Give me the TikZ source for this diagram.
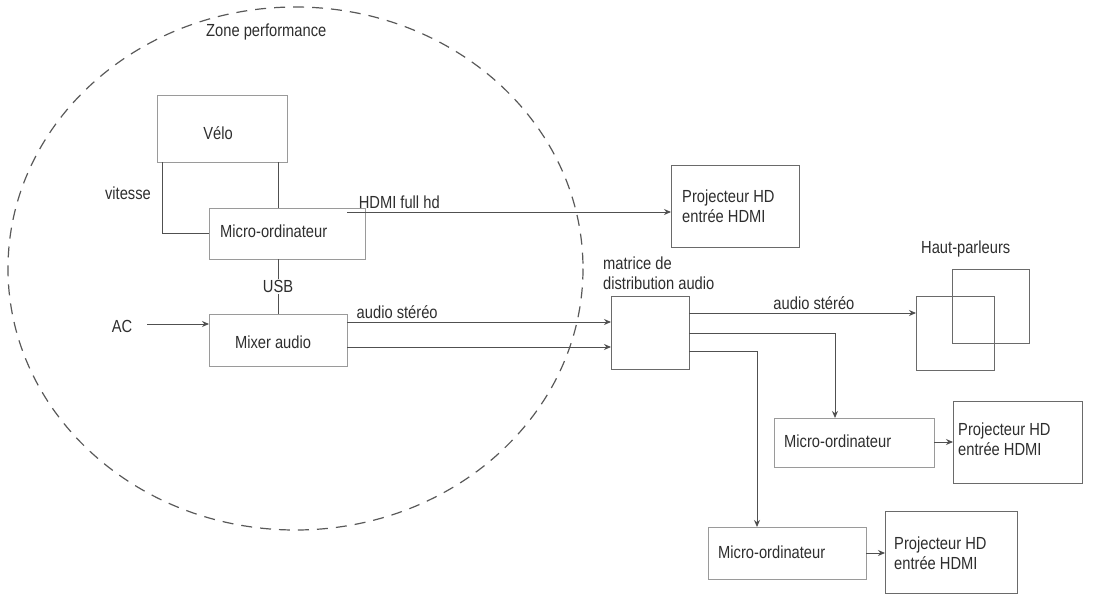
\documentclass[tikz,border=0pt]{standalone}
\usepackage{fontspec}
\setmainfont{Liberation Sans}[FakeStretch=0.84]
\usetikzlibrary{arrows.meta,calc}
\definecolor{ink}{HTML}{2E2E2E}
\definecolor{lightbox}{HTML}{9A9A9A}
\definecolor{midbox}{HTML}{6A6A6A}
\definecolor{wire}{HTML}{505050}
\begin{document}
\begin{tikzpicture}[x=1pt,y=-1pt,
  font=\fontsize{17.5}{20}\selectfont,
  every node/.style={text=ink},
  box/.style={draw=#1,line width=0.9pt,rectangle,inner sep=0pt,anchor=north west},
  box/.default=lightbox,
  lbl/.style={inner sep=0pt,anchor=west},
  wirel/.style={draw=wire,line width=1pt},
  arr/.style={wirel,-{Stealth[length=7pt,width=6pt]}},
  zone/.style={draw=black!65,line width=1.2pt,dash pattern=on 11pt off 8pt}]
\useasboundingbox (0,0) rectangle (1095,594);
% zone
\draw[zone] (295.5,268.5) ellipse [x radius=287.5, y radius=261.5];
\node[lbl] (zonel) at (206,32) {Zone performance};
% boxes
\node[box,minimum width=130pt,minimum height=67pt] (velo) at (157,95) {};
\node (velot) at (218,133) {Vélo};
\node[box,minimum width=156pt,minimum height=51pt] (micro1) at (209,208) {};
\node[lbl] (micro1t) at (220,231) {Micro-ordinateur};
\node[box,minimum width=138pt,minimum height=52pt] (mixer) at (209,314) {};
\node (mixert) at (273,342) {Mixer audio};
\node[box=midbox,minimum width=128pt,minimum height=82pt] (proj1) at (671,165) {};
\node[lbl,align=left] (proj1t) at (682,206) {Projecteur HD\\entrée HDMI};
\node[box=midbox,minimum width=78pt,minimum height=73pt] (matrix) at (611,296) {};
\node[lbl,align=left] (matrixt) at (603,273) {matrice de\\distribution audio};
\node[box=midbox,minimum width=78pt,minimum height=74pt] (spk1) at (916,296) {};
\node[box=midbox,minimum width=77pt,minimum height=74pt] (spk2) at (952,269) {};
\node[lbl] (spkt) at (921,249) {Haut-parleurs};
\node[box,minimum width=160pt,minimum height=49pt] (micro2) at (774,418) {};
\node[lbl] (micro2t) at (784,441) {Micro-ordinateur};
\node[box=midbox,minimum width=129pt,minimum height=82pt] (proj2) at (953,401) {};
\node[lbl,align=left] (proj2t) at (958,439) {Projecteur HD\\entrée HDMI};
\node[box,minimum width=158pt,minimum height=52pt] (micro3) at (708,527) {};
\node[lbl] (micro3t) at (718,552) {Micro-ordinateur};
\node[box=midbox,minimum width=132pt,minimum height=82pt] (proj3) at (885,511) {};
\node[lbl,align=left] (proj3t) at (894,553) {Projecteur HD\\entrée HDMI};
\node (ac) at (122,326) {AC};
\node[lbl,anchor=east] (vitl) at (151,193) {vitesse};
% connector anchors
\coordinate (v1) at (162,162);
\coordinate (v2) at (278,162);
\coordinate (h1) at (347,212);
\coordinate (u1) at (278,259);
\coordinate (a1) at (147,324);
\coordinate (m1) at (347,322);
\coordinate (m2) at (347,347);
\coordinate (x1) at (689,313);
\coordinate (x2) at (689,333);
\coordinate (x3) at (689,351);
\coordinate (d2) at (835,418);
\coordinate (d3) at (757,527);
\coordinate (p2) at (934,442);
\coordinate (p3) at (866,553);
% connectors
\draw[wirel] (v1) |- (micro1.west);
\draw[wirel] (v2) -- (v2 |- micro1.north);
\draw[arr] (h1) -- node[pos=0.035,above=3pt,anchor=south west,inner sep=0pt] (hdmil) {HDMI full hd} (h1 -| proj1.west);
\draw[wirel] (u1) -- node[fill=white,inner sep=1pt] (usbl) {USB} (u1 |- mixer.north);
\draw[arr] (a1) -- (a1 -| mixer.west);
\draw[arr] (m1) -- node[pos=0.035,above=3pt,anchor=south west,inner sep=0pt] (audiol1) {audio stéréo} (m1 -| matrix.west);
\draw[arr] (m2) -- (m2 -| matrix.west);
\draw[arr] (x1) -- node[pos=0.37,above=3pt,anchor=south west,inner sep=0pt] (audiol2) {audio stéréo} (x1 -| spk1.west);
\draw[arr] (x2) -| (d2);
\draw[arr] (x3) -| (d3);
\draw[arr] (p2) -- (p2 -| proj2.west);
\draw[arr] (p3) -- (p3 -| proj3.west);
\end{tikzpicture}
\end{document}
